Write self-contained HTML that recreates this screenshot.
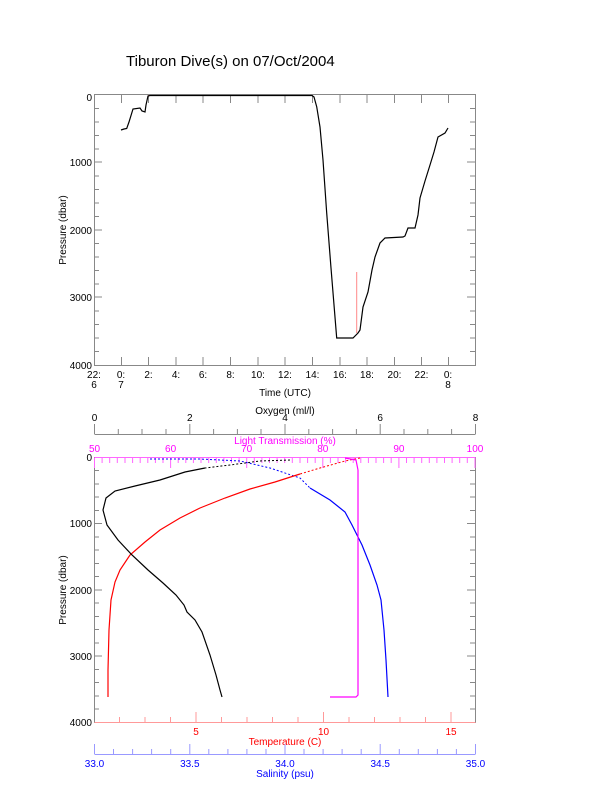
<!DOCTYPE html>
<html><head><style>body{margin:0;background:#fff}svg{display:block;font-family:"Liberation Sans",sans-serif}</style></head>
<body>
<svg width="612" height="785" viewBox="0 0 612 785" xmlns="http://www.w3.org/2000/svg">
<text x="126" y="66" font-size="15">Tiburon Dive(s) on 07/Oct/2004</text>
<rect x="94.5" y="94.5" width="381" height="271" fill="none" stroke="#888" stroke-width="1"/>
<g stroke="#888" stroke-width="1">
<path d="M94 108.5h5M94 122h5M94 135.5h5M94 149h5M94 162h8M94 176h5M94 189.5h5M94 203h5M94 216.5h5M94 230h8M94 243.5h5M94 257h5M94 270.5h5M94 284h5M94 297h8M94 311h5M94 324.5h5M94 338h5M94 351.5h5
M475 108.5h-5M475 122h-5M475 135.5h-5M475 149h-5M475 162h-8M475 176h-5M475 189.5h-5M475 203h-5M475 216.5h-5M475 230h-8M475 243.5h-5M475 257h-5M475 270.5h-5M475 284h-5M475 297h-8M475 311h-5M475 324.5h-5M475 338h-5M475 351.5h-5"/>
<path d="M121.5 365v-8M148.5 365v-8M176 365v-8M203 365v-8M230.5 365v-8M258 365v-8M285 365v-8M312.5 365v-8M340 365v-8M367 365v-8M394.5 365v-8M421.5 365v-8M448.5 365v-8
M121.5 95v8M148.5 95v8M176 95v8M203 95v8M230.5 95v8M258 95v8M285 95v8M312.5 95v8M340 95v8M367 95v8M394.5 95v8M421.5 95v8M448.5 95v8"/>
</g>
<g font-size="10" text-anchor="end">
<text x="92" y="101">0</text><text x="92" y="166">1000</text><text x="92" y="234">2000</text><text x="92" y="301">3000</text><text x="92" y="369">4000</text>
</g>
<g font-size="10" text-anchor="middle">
<text x="94" y="378">22:</text><text x="94" y="388">6</text>
<text x="121" y="378">0:</text><text x="121" y="388">7</text>
<text x="148.5" y="378">2:</text><text x="176" y="378">4:</text><text x="203" y="378">6:</text><text x="230.5" y="378">8:</text><text x="258" y="378">10:</text><text x="285" y="378">12:</text><text x="312.5" y="378">14:</text><text x="340" y="378">16:</text><text x="367" y="378">18:</text><text x="394.5" y="378">20:</text><text x="421.5" y="378">22:</text>
<text x="448" y="378">0:</text><text x="448" y="388">8</text>
<text x="285" y="396">Time (UTC)</text>
</g>
<text transform="translate(66,230) rotate(-90)" font-size="10" text-anchor="middle">Pressure (dbar)</text>
<path d="M148 95.5H312M356.7 272V333" stroke="#f88" stroke-width="1" fill="none"/>
<polyline fill="none" stroke="#000" stroke-width="1.2" points="121,130 124,129 126.7,128.5 129,122 133,109 140,108 142,111 145,112 146,105 148,96 150,95.5 312,95.5 314,97 316.7,106.7 320,127 323,160 326.7,213 331,268 336.7,338 353,338 358,333 360,330 363,307 368,292 372,270 375,257 380,243 385,238 403,237 405,236 408,228 415,228 418,215 420,198 425,181 430,165 434,152 438,137 445,133 448,128"/>
<rect x="94.5" y="457.5" width="381" height="265" fill="none" stroke="#888"/>
<g stroke="#888"><path d="M94 470.5h5M94 484h5M94 497h5M94 510.5h5M94 523.5h8M94 537h5M94 550h5M94 563.5h5M94 576.5h5M94 590h8M94 603h5M94 616.5h5M94 629.5h5M94 643h5M94 656h8M94 669.5h5M94 682.5h5M94 696h5M94 709h5
M475 470.5h-5M475 484h-5M475 497h-5M475 510.5h-5M475 523.5h-8M475 537h-5M475 550h-5M475 563.5h-5M475 576.5h-5M475 590h-8M475 603h-5M475 616.5h-5M475 629.5h-5M475 643h-5M475 656h-8M475 669.5h-5M475 682.5h-5M475 696h-5M475 709h-5"/></g>
<g font-size="10" text-anchor="end"><text x="92" y="461">0</text><text x="92" y="527">1000</text><text x="92" y="594">2000</text><text x="92" y="660">3000</text><text x="92" y="726">4000</text></g>
<text transform="translate(66,590) rotate(-90)" font-size="10" text-anchor="middle">Pressure (dbar)</text>
<g stroke="#888"><path d="M94.5 434.5h381M94.5 434v-10M118.3 434v-5M142 434v-5M166 434v-5M189.8 434v-10M213.6 434v-5M237.4 434v-5M261 434v-5M285 434v-10M308.8 434v-5M332.6 434v-5M356.4 434v-5M380.2 434v-10M404 434v-5M427.8 434v-5M451.6 434v-5M475.5 434v-10"/></g>
<g font-size="10" text-anchor="middle"><text x="94.5" y="421">0</text><text x="189.8" y="421">2</text><text x="285" y="421">4</text><text x="380.2" y="421">6</text><text x="475.5" y="421">8</text><text x="285" y="414">Oxygen (ml/l)</text></g>
<g stroke="#f6f" stroke-width="1"><path d="M94.5 457.5h381M94.5 458v10M102.1 458v5M109.7 458v5M117.3 458v5M125 458v5M132.6 458v5M140.2 458v5M147.8 458v5M155.4 458v5M163 458v5M170.6 458v10M178.2 458v5M185.8 458v5M193.4 458v5M201 458v5M208.7 458v5M216.3 458v5M223.9 458v5M231.5 458v5M239.1 458v5M246.7 458v10M254.3 458v5M261.9 458v5M269.5 458v5M277.1 458v5M284.7 458v5M292.3 458v5M300 458v5M307.6 458v5M315.2 458v5M322.8 458v10M330.4 458v5M338 458v5M345.6 458v5M353.2 458v5M360.8 458v5M368.4 458v5M376 458v5M383.6 458v5M391.2 458v5M398.9 458v10M406.5 458v5M414.1 458v5M421.7 458v5M429.3 458v5M436.9 458v5M444.5 458v5M452.1 458v5M459.7 458v5M467.3 458v5M475 458v10"/></g>
<g font-size="10" fill="#f0f" text-anchor="middle"><text x="94.5" y="452">50</text><text x="170.6" y="452">60</text><text x="246.7" y="452">70</text><text x="322.8" y="452">80</text><text x="398.9" y="452">90</text><text x="475" y="452">100</text><text x="285" y="444">Light Transmission (%)</text></g>
<g stroke="#f99"><path d="M94.5 722.5h381M119.5 722v-5M145 722v-5M170.5 722v-5M196 722v-10M221.5 722v-5M247 722v-5M272.5 722v-5M298 722v-5M323.5 722v-10M349 722v-5M374.5 722v-5M400 722v-5M425.5 722v-5M451 722v-10"/></g>
<g font-size="10" fill="#f00" text-anchor="middle"><text x="196" y="735">5</text><text x="323.5" y="735">10</text><text x="451" y="735">15</text><text x="285" y="745">Temperature (C)</text></g>
<g stroke="#99f"><path d="M94.5 754.5h381M94.5 754v-10M113.5 754v-5M132.6 754v-5M151.6 754v-5M170.7 754v-5M189.8 754v-10M208.8 754v-5M227.9 754v-5M246.9 754v-5M266 754v-5M285 754v-10M304 754v-5M323.1 754v-5M342.1 754v-5M361.2 754v-5M380.2 754v-10M399.3 754v-5M418.3 754v-5M437.4 754v-5M456.4 754v-5M475.5 754v-10"/></g>
<g font-size="10" fill="#00f" text-anchor="middle"><text x="94.5" y="767">33.0</text><text x="189.8" y="767">33.5</text><text x="285" y="767">34.0</text><text x="380.2" y="767">34.5</text><text x="475.5" y="767">35.0</text><text x="285" y="777">Salinity (psu)</text></g>
<polyline fill="none" stroke="#00f" stroke-width="1" stroke-dasharray="2 2" points="150,459 200,459 240,461 270,468 300,478 310,488"/>
<polyline fill="none" stroke="#00f" stroke-width="1.2" points="310,488 330,500 345,512 352,525 362,545 370,565 377,585 381,600 384,630 386,660 388,697"/>
<polyline fill="none" stroke="#f00" stroke-dasharray="2 2" points="360,458 345,461 320,468 300,474"/>
<polyline fill="none" stroke="#f00" stroke-width="1.2" points="300,474 275,482 250,489 225,498 200,508 180,518 160,530 145,542 130,555 120,570 115,582 111,600 109,630 108,670 108,697"/>
<polyline fill="none" stroke="#000" stroke-dasharray="2 2" points="290,460 260,461 230,465 205,468"/>
<polyline fill="none" stroke="#000" stroke-width="1.2" points="205,468 185,472 160,480 135,486 115,491 106,498 103,510 107,525 118,540 132,555 148,570 163,583 176,595 184,605 187,612 195,620 202,632 210,655 216,675 220,690 222,697"/>
<polyline fill="none" stroke="#f0f" stroke-width="1.2" points="345,458 356,460 358,470 358,500 358,600 358,695 356,697 330,697"/>
</svg>
</body></html>
